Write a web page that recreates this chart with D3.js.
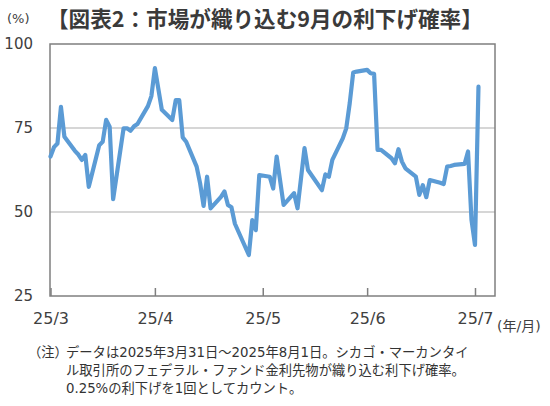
<!DOCTYPE HTML>
<html>
<head>
    <meta charset="utf-8">
    <title>市場が織り込む9月の利下げ確率</title>
    <style>
        body { margin: 0; background: #fff; }
        svg text { font-family: "DejaVu Sans", "Noto Sans CJK JP", sans-serif; fill: #404040; }
        .jp { font-family: "Noto Sans CJK JP", sans-serif; }
    </style>
</head>
<body>
    <svg id="chart"></svg>

    <script src="https://d3js.org/d3.v7.min.js"></script>
    <script>
        /* data */
        const dates = [
            "2025-03-31", "2025-04-01", "2025-04-02", "2025-04-03", "2025-04-04", "2025-04-07", "2025-04-08",
            "2025-04-09", "2025-04-10", "2025-04-11", "2025-04-14", "2025-04-15", "2025-04-16", "2025-04-17",
            "2025-04-18", "2025-04-21", "2025-04-22", "2025-04-23", "2025-04-24", "2025-04-25", "2025-04-28",
            "2025-04-29", "2025-04-30", "2025-05-02", "2025-05-05", "2025-05-06", "2025-05-07", "2025-05-08",
            "2025-05-09", "2025-05-12", "2025-05-13", "2025-05-14", "2025-05-15", "2025-05-16", "2025-05-19",
            "2025-05-20", "2025-05-21", "2025-05-22", "2025-05-23", "2025-05-27", "2025-05-28", "2025-05-29",
            "2025-05-30", "2025-06-02", "2025-06-03", "2025-06-04", "2025-06-06", "2025-06-09", "2025-06-10",
            "2025-06-12", "2025-06-13", "2025-06-17", "2025-06-18", "2025-06-19", "2025-06-20", "2025-06-23",
            "2025-06-24", "2025-06-25", "2025-06-26", "2025-06-27", "2025-06-30", "2025-07-01", "2025-07-02",
            "2025-07-03", "2025-07-04", "2025-07-07", "2025-07-08", "2025-07-09", "2025-07-10", "2025-07-11",
            "2025-07-14", "2025-07-15", "2025-07-16", "2025-07-17", "2025-07-18", "2025-07-21", "2025-07-22",
            "2025-07-23", "2025-07-24", "2025-07-25", "2025-07-28", "2025-07-29", "2025-07-30", "2025-07-31",
            "2025-08-01"
        ];
        const rates = [
            66.5, 69.3, 70.4, 81.3, 72.4, 68.2, 67.1,
            65.5, 67.0, 57.5, 69.9, 70.9, 77.4, 75.4,
            53.8, 74.9, 74.9, 74.2, 75.5, 76.2, 81.5,
            84.5, 92.8, 80.4, 77.4, 83.3, 83.3, 72.2,
            70.9, 63.5, 58.5, 51.8, 60.5, 51.1, 54.5,
            56.1, 52.1, 51.4, 46.5, 37.2, 47.6, 44.6,
            61.0, 60.5, 57.0, 66.5, 52.1, 55.6, 51.1,
            69.0, 62.5, 56.5, 61.2, 60.5, 65.5, 71.9,
            74.9, 82.4, 91.5, 91.8, 92.3, 91.3, 91.1,
            68.5, 68.5, 66.0, 64.5, 68.7, 65.0, 63.0,
            60.5, 55.1, 58.0, 54.4, 59.5, 58.7, 58.3,
            63.5, 63.7, 64.0, 64.3, 68.0, 47.6, 40.2,
            87.3
        ];
        const yTicks = [25, 50, 75, 100];
        const gridTicks = [50, 75];
        const monthTicks = ["2025-03-31", "2025-04-30", "2025-05-31", "2025-06-30", "2025-07-31"];
        const monthLabels = ["25/3", "25/4", "25/5", "25/6", "25/7"];
        const title = "【図表2：市場が織り込む9月の利下げ確率】";
        const noteHead = "（注）";
        const noteLines = [
            "データは2025年3月31日～2025年8月1日。シカゴ・マーカンタイ",
            "ル取引所のフェデラル・ファンド金利先物が織り込む利下げ確率。",
            "0.25%の利下げを1回としてカウント。"
        ];

        const svgWidth = 550;
        const svgHeight = 406;
        const plot = { left: 50, right: 495, top: 44, bottom: 296 };

        const parse = d3.timeParse("%Y-%m-%d");
        const points = dates.map(function (d, i) { return { date: parse(d), value: rates[i] }; });

        let svg = d3.select("#chart")
            .attr("width", svgWidth)
            .attr("height", svgHeight);

        const x = d3.scaleTime()
            .domain([parse("2025-03-31"), new Date(2025, 7, 5, 18)])
            .range([plot.left + 0.5, plot.right]);

        const y = d3.scaleLinear()
            .domain([25, 100])
            .range([plot.bottom, plot.top]);

        /* title */
        svg.append("text")
            .attr("class", "jp")
            .attr("x", 47)
            .attr("y", 27)
            .attr("font-size", 21.6)
            .attr("font-weight", "bold")
            .style("fill", "#3a3a3a")
            .text(title);

        svg.append("text")
            .attr("x", 7)
            .attr("y", 23)
            .attr("font-size", 13)
            .text("(%)");

        /* gridlines */
        svg.append("g")
            .selectAll("line")
            .data(gridTicks)
            .enter()
            .append("line")
            .attr("x1", plot.left)
            .attr("x2", plot.right)
            .attr("y1", function (d) { return y(d); })
            .attr("y2", function (d) { return y(d); })
            .attr("stroke", "#c8c8c8")
            .attr("stroke-width", 1.3);

        /* frame */
        svg.append("rect")
            .attr("x", plot.left)
            .attr("y", plot.top)
            .attr("width", plot.right - plot.left)
            .attr("height", plot.bottom - plot.top)
            .attr("fill", "none")
            .attr("stroke", "#7f7f7f")
            .attr("stroke-width", 1.5);

        /* axes */
        let xAxis = svg.append("g")
            .attr("transform", "translate(0," + plot.bottom + ")")
            .call(d3.axisBottom(x)
                .tickValues(monthTicks.map(parse))
                .tickFormat(function (d, i) { return monthLabels[i]; })
                .tickSizeInner(-8)
                .tickSizeOuter(0)
                .tickPadding(17));
        xAxis.select(".domain").remove();
        xAxis.selectAll("line").attr("stroke", "#7f7f7f").attr("stroke-width", 1.5);
        xAxis.selectAll("text").attr("font-size", 16).style("fill", "#404040");

        let yAxis = svg.append("g")
            .attr("transform", "translate(" + plot.left + ",0)")
            .call(d3.axisLeft(y)
                .tickValues(yTicks)
                .tickSize(0)
                .tickPadding(17));
        yAxis.select(".domain").remove();
        yAxis.selectAll("text").attr("font-size", 15).style("fill", "#404040");

        svg.append("text")
            .attr("x", 497)
            .attr("y", 331)
            .attr("font-size", 14)
            .text("(年/月)");

        /* rate line */
        const line = d3.line()
            .x(function (d) { return x(d.date); })
            .y(function (d) { return y(d.value); });

        svg.append("path")
            .datum(points)
            .attr("d", line)
            .attr("fill", "none")
            .attr("stroke", "#5b9bd5")
            .attr("stroke-width", 4.2)
            .attr("stroke-linejoin", "round")
            .attr("stroke-linecap", "round");

        /* note */
        svg.append("text")
            .attr("class", "jp")
            .attr("x", 28)
            .attr("y", 357)
            .attr("font-size", 13.3)
            .style("fill", "#333")
            .text(noteHead);

        svg.append("g")
            .selectAll("text")
            .data(noteLines)
            .enter()
            .append("text")
            .attr("x", 66)
            .attr("y", function (d, i) { return 357 + i * 17.8; })
            .attr("font-size", 13.3)
            .style("fill", "#333")
            .text(function (d) { return d; });
    </script>
</body>
</html>
